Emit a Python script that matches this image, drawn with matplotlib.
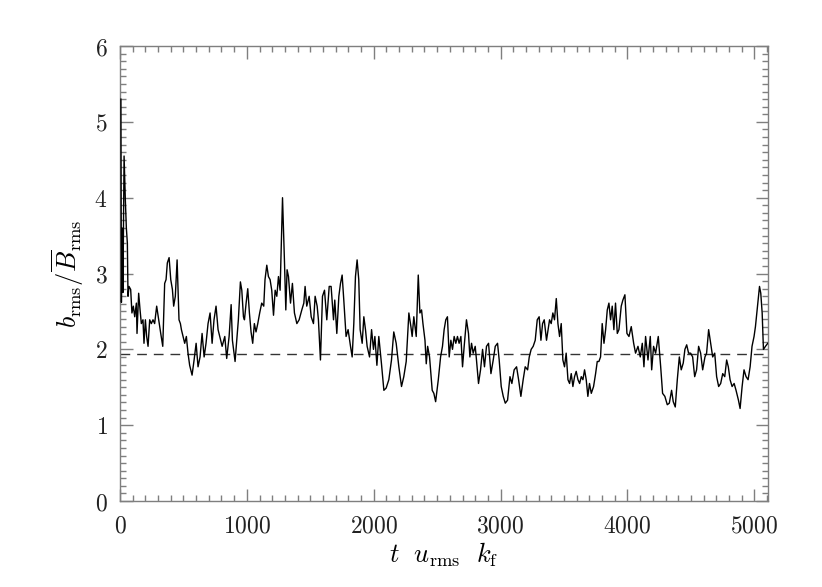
import matplotlib
matplotlib.use("Agg")
import matplotlib.pyplot as plt
from matplotlib.ticker import MultipleLocator, FuncFormatter

# time axis (t u_rms k_f) and b_rms / mean-B_rms
t = [7, 11, 17, 23, 32, 42, 50, 58, 63, 71, 84, 94, 105, 116, 129, 134, 147,
     158, 168, 181, 189, 200, 210, 221, 234, 247, 260, 273, 289, 305, 321,
     337, 352, 363, 373, 387, 400, 413, 423, 436, 450, 457, 465, 476, 484,
     497, 510, 523, 536, 549, 568, 584, 600, 615, 631, 647, 663, 678, 694,
     710, 726, 741, 757, 773, 786, 805, 826,
     841, 860, 876, 886, 907, 920, 933, 949, 960, 973, 981, 994, 1007, 1020,
     1033, 1046, 1059, 1072, 1086, 1101, 1117, 1133, 1143, 1157, 1170, 1183,
     1196, 1210, 1223, 1236, 1249, 1262, 1281, 1296, 1307, 1317, 1328, 1344,
     1359, 1375, 1394, 1412, 1433, 1449, 1459, 1472, 1491, 1507, 1525, 1538,
     1554, 1564, 1580, 1596, 1612, 1630, 1649, 1664, 1683,
     1693, 1709, 1725, 1738, 1751, 1764, 1782, 1798, 1817, 1830, 1843, 1856,
     1869, 1882, 1893, 1909, 1922, 1935, 1948, 1967, 1983, 1998, 2009, 2025,
     2040, 2061, 2080, 2098, 2119, 2140, 2158, 2177, 2198, 2219, 2237, 2256,
     2277, 2293, 2303, 2316, 2335, 2351, 2364, 2377, 2388, 2404, 2414, 2425,
     2440, 2461, 2474, 2488, 2509, 2527,
     2542, 2555, 2568, 2581, 2595, 2608, 2621, 2634, 2647, 2660, 2673, 2687,
     2700, 2713, 2731, 2747, 2758, 2771, 2784, 2800, 2810, 2826, 2842, 2858,
     2873, 2889, 2905, 2924, 2942, 2958, 2976, 2989, 3005, 3021, 3037, 3055,
     3074, 3089, 3107, 3126, 3142, 3160, 3178, 3194, 3213, 3226, 3241, 3257,
     3273, 3289, 3304, 3318, 3331, 3344, 3362, 3378,
     3386, 3399, 3412, 3425, 3439, 3452, 3465, 3478, 3491, 3504, 3517, 3531,
     3544, 3557, 3570, 3583, 3596, 3610, 3623, 3636, 3649, 3662, 3675, 3688,
     3701, 3715, 3733, 3749, 3762, 3775, 3788, 3801, 3815, 3828, 3841, 3854,
     3867, 3880, 3893, 3906, 3920, 3933, 3951, 3964, 3980, 3996, 4012, 4030,
     4049, 4064, 4083, 4101, 4117, 4130, 4143, 4162, 4180, 4191, 4206, 4222,
     4243, 4262, 4277, 4295, 4314, 4330, 4348, 4361, 4377, 4393, 4409, 4424,
     4440, 4453, 4467, 4482, 4498, 4514, 4530, 4545, 4561, 4577, 4593, 4611,
     4624, 4640, 4656, 4672, 4688, 4703, 4719, 4735, 4751, 4767, 4782, 4795,
     4809, 4825, 4841, 4856, 4875, 4888, 4904, 4919, 4935, 4951, 4967, 4982,
     4998, 5009, 5025, 5041, 5051, 5062, 5072, 5088, 5106]
ratio = [5.30, 2.62, 3.60, 2.75, 4.55, 3.97, 3.60, 3.40, 2.70, 2.83, 2.79, 2.48,
         2.57, 2.43, 2.61, 2.21, 2.74, 2.52, 2.34, 2.39, 2.08, 2.39, 2.17, 2.04,
         2.39, 2.34, 2.39, 2.34, 2.57, 2.39, 2.21, 2.04, 2.87, 2.92, 3.14, 3.21,
         2.92, 2.79, 2.57, 2.70, 3.18, 2.79, 2.39, 2.34, 2.26, 2.17, 2.08, 2.17,
         1.95, 1.79, 1.66, 1.86, 2.08, 1.77, 1.90, 2.21, 1.90, 2.08, 2.34, 2.48,
         2.08, 2.39, 2.57, 2.26, 2.17, 2.04, 2.17,
         1.88, 2.17, 2.59, 2.12, 1.84, 2.12, 2.39, 2.89, 2.78, 2.43, 2.39, 2.61,
         2.80, 2.48, 2.23, 2.08, 2.34, 2.23, 2.34, 2.48, 2.61, 2.57, 2.92, 3.11,
         2.96, 2.92, 2.78, 2.45, 2.78, 2.70, 2.96, 2.78, 4.00, 3.18, 2.52, 3.05,
         2.96, 2.61, 2.87, 2.48, 2.34, 2.39, 2.52, 2.61, 2.83, 2.57, 2.70, 2.43,
         2.34, 2.70, 2.57, 2.39, 1.86, 2.70, 2.78, 2.39, 2.83, 2.83, 2.39,
         2.65, 2.21, 2.70, 2.87, 2.98, 2.65, 2.17, 2.26, 2.04, 1.90, 2.34, 2.96,
         3.18, 2.92, 2.26, 2.08, 2.43, 2.26, 2.04, 1.90, 2.26, 2.00, 2.17, 1.79,
         2.17, 1.81, 1.46, 1.49, 1.60, 1.86, 2.23, 2.08, 1.77, 1.51, 1.64, 1.84,
         2.48, 2.30, 2.17, 2.43, 2.17, 2.98, 2.48, 2.52, 2.34, 2.12, 1.81, 2.04,
         1.90, 1.46, 1.42, 1.31, 1.60, 1.90,
         2.04, 2.26, 2.39, 2.43, 1.90, 2.12, 2.00, 2.17, 2.08, 2.17, 2.08, 2.17,
         1.77, 2.04, 2.39, 2.21, 1.90, 2.08, 1.95, 2.04, 1.86, 1.55, 1.73, 2.00,
         1.77, 2.04, 2.08, 1.68, 1.86, 2.04, 2.08, 1.86, 1.51, 1.38, 1.29, 1.33,
         1.64, 1.55, 1.73, 1.77, 1.60, 1.38, 1.60, 1.77, 1.73, 1.90, 2.00, 2.04,
         2.12, 2.39, 2.43, 2.12, 2.34, 2.39, 2.12, 2.30,
         2.39, 2.34, 2.48, 2.39, 2.67, 2.34, 2.17, 2.34, 1.86, 1.77, 1.95, 1.60,
         1.55, 1.68, 1.51, 1.64, 1.71, 1.60, 1.55, 1.64, 1.60, 1.73, 1.60, 1.38,
         1.55, 1.42, 1.51, 1.68, 1.84, 1.84, 1.90, 2.34, 2.08, 2.26, 2.52, 2.61,
         2.39, 2.57, 2.26, 2.61, 2.21, 2.26, 2.57, 2.65, 2.72, 2.21, 2.17, 2.30,
         2.08, 1.95, 2.04, 1.90, 2.08, 1.77, 2.17, 1.86, 2.17, 1.73, 2.04, 1.95,
         2.17, 1.77, 1.42, 1.38, 1.27, 1.29, 1.46, 1.31, 1.24, 1.60, 1.90, 1.73,
         1.82, 2.00, 2.06, 1.95, 1.95, 1.90, 1.64, 1.73, 2.04, 1.95, 1.73, 1.90,
         1.95, 2.26, 2.08, 1.90, 1.95, 1.64, 1.51, 1.55, 1.68, 1.64, 1.86, 1.77,
         1.60, 1.51, 1.55, 1.46, 1.33, 1.22, 1.51, 1.73, 1.64, 1.60, 1.77, 2.04,
         2.17, 2.30, 2.57, 2.83, 2.74, 2.48, 2.00, 2.04, 2.08]
mean_level = 1.94

plt.rcParams["mathtext.fontset"] = "cm"
plt.rcParams["font.family"] = "serif"

fig = plt.figure(figsize=(8.22, 5.87), dpi=100, facecolor="white")
ax = fig.add_axes([0.146, 0.1465, 0.788, 0.775])

ax.plot(t, ratio, color="black", lw=1.0, zorder=3)
ax.axhline(mean_level, color="#333333", lw=1.0, dashes=(7, 5))

ax.set_xlim(0, t[-1])
ax.set_ylim(0, 6)
ax.xaxis.set_major_locator(MultipleLocator(1000))
ax.xaxis.set_minor_locator(MultipleLocator(100))
ax.yaxis.set_major_locator(MultipleLocator(1))
ax.yaxis.set_minor_locator(MultipleLocator(0.1))
ax.xaxis.set_major_formatter(FuncFormatter(lambda v, p: f"${int(v)}$"))
ax.yaxis.set_major_formatter(FuncFormatter(lambda v, p: f"${int(v)}$"))

grey = "#7f7f7f"
for s in ax.spines.values():
    s.set_color(grey)
    s.set_linewidth(1.0)
ax.tick_params(which="both", direction="in", top=True, right=True, color=grey,
               width=1.0, labelcolor="#222222", labelsize=17)
ax.tick_params(which="major", length=9)
ax.tick_params(which="minor", length=4.5)
ax.tick_params(axis="x", pad=10)
ax.tick_params(axis="y", pad=9)

ax.set_xlabel(r"$t\ \ u_{\rm rms}\ \ k_{\rm f}$", fontsize=19, labelpad=2)
ax.set_ylabel(r"$b_{\rm rms}/\overline{B}_{\rm rms}$", fontsize=19, labelpad=6)

fig.savefig("out.png", dpi=100, facecolor="white")
